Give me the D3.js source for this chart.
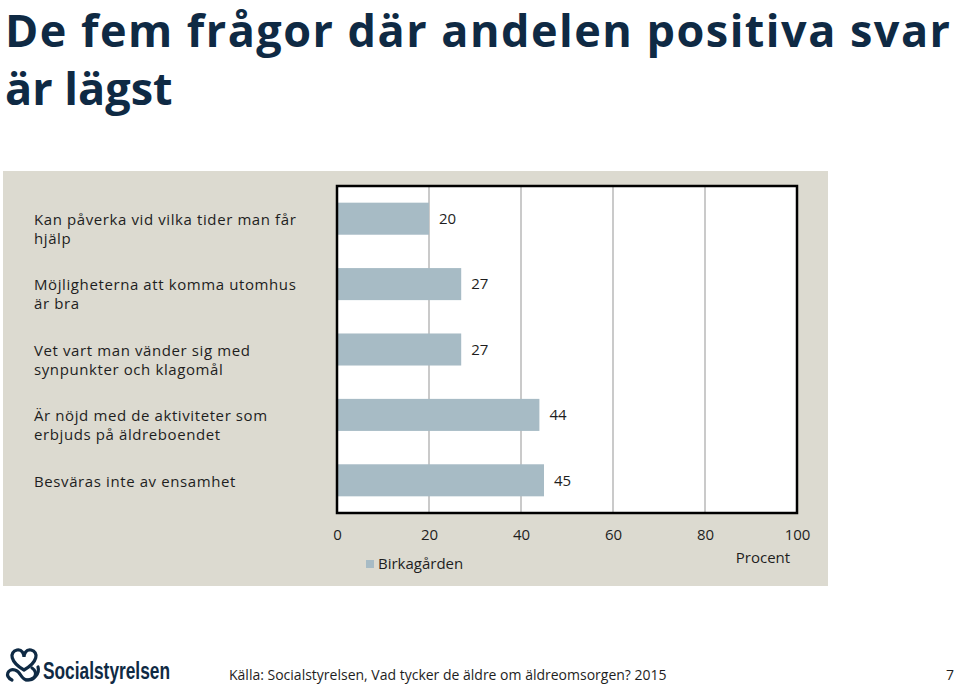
<!DOCTYPE html>
<html><head><meta charset="utf-8">
<script src="https://cdn.jsdelivr.net/npm/d3@7"></script>
<style>body{margin:0;background:#fff}svg{display:block}</style>
</head><body>
<svg id="c" width="959" height="688"></svg>
<script>
const titleLines = ["De fem frågor där andelen positiva svar", "är lägst"];
const categories = [
  ["Kan påverka vid vilka tider man får", "hjälp"],
  ["Möjligheterna att komma utomhus", "är bra"],
  ["Vet vart man vänder sig med", "synpunkter och klagomål"],
  ["Är nöjd med de aktiviteter som", "erbjuds på äldreboendet"],
  ["Besväras inte av ensamhet"]
];
const values = [20, 27, 27, 44, 45];
const xTicks = [0, 20, 40, 60, 80, 100];
const seriesName = "Birkagården";
const axisTitle = "Procent";
const sourceText = "Källa: Socialstyrelsen, Vad tycker de äldre om äldreomsorgen? 2015";
const pageNumber = "7";

(function () {
const svg = d3.select("#c");
const font = "'Open Sans', 'DejaVu Sans', sans-serif";
const textCol = "#1e1e1e";

// title
const title = svg.append("g");
titleLines.forEach((t, i) => {
  title.append("text").attr("x", 5).attr("y", 47 + i * 58)
    .attr("font-family", font).attr("font-weight", 700).attr("font-size", 45)
    .attr("fill", "#0f2a44").text(t);
});
const t0 = title.select("text");
const w0 = t0.node().getComputedTextLength();
if (w0 < 945) t0.attr("textLength", 945).attr("lengthAdjust", "spacing");

// panel
svg.append("rect").attr("x", 3).attr("y", 171).attr("width", 825).attr("height", 415).attr("fill", "#dcdad0");

const pL = 337, pR = 797, pT = 186, pB = 513;
const x = d3.scaleLinear().domain([0, 100]).range([pL, pR]);
const y = d3.scaleBand().domain(d3.range(values.length)).range([pT, pB]).paddingInner(0.51).paddingOuter(0.255);

svg.append("rect").attr("x", pL).attr("y", pT).attr("width", pR - pL).attr("height", pB - pT).attr("fill", "#fff");

svg.append("g").selectAll("line").data(xTicks.filter(d => d > 0 && d < 100)).join("line")
  .attr("x1", d => x(d)).attr("x2", d => x(d)).attr("y1", pT).attr("y2", pB)
  .attr("stroke", "#b8b8b8").attr("stroke-width", 1.5);

svg.append("g").selectAll("rect").data(values).join("rect")
  .attr("x", x(0)).attr("y", (d, i) => y(i)).attr("width", d => x(d) - x(0)).attr("height", y.bandwidth())
  .attr("fill", "#a7bbc5");

svg.append("rect").attr("x", pL).attr("y", pT).attr("width", pR - pL).attr("height", pB - pT)
  .attr("fill", "none").attr("stroke", "#000").attr("stroke-width", 2.5);

svg.append("g").selectAll("text").data(values).join("text")
  .attr("x", d => x(d) + 10).attr("y", (d, i) => y(i) + y.bandwidth() / 2)
  .attr("dy", "0.35em").attr("font-family", font).attr("font-size", 15).attr("fill", textCol)
  .text(d => d);

const cg = svg.append("g");
categories.forEach((lines, i) => {
  const cy = y(i) + y.bandwidth() / 2 + 1;
  const t = cg.append("text").attr("font-family", font).attr("font-size", 15)
    .attr("letter-spacing", 0.6).attr("fill", textCol);
  lines.forEach((ln, j) => {
    t.append("tspan").attr("x", 34).attr("y", cy + j * 19).attr("dy", "0.35em").text(ln);
  });
});

const xAxis = d3.axisBottom(x).tickValues(xTicks).tickSize(0).tickPadding(0);
const ax = svg.append("g").attr("transform", `translate(0,${pB + 16})`).call(xAxis);
ax.select(".domain").remove();
ax.selectAll("text").attr("font-family", font).attr("font-size", 15).attr("fill", textCol);

svg.append("text").attr("x", 763).attr("y", 558).attr("dy", "0.35em").attr("text-anchor", "middle")
  .attr("font-family", font).attr("font-size", 15).attr("fill", textCol).text(axisTitle);

svg.append("rect").attr("x", 366).attr("y", 560).attr("width", 8).attr("height", 8).attr("fill", "#a7bbc5");
svg.append("text").attr("x", 378).attr("y", 564).attr("dy", "0.35em")
  .attr("font-family", font).attr("font-size", 15).attr("fill", textCol).text(seriesName);

const logo = svg.append("g").attr("fill", "none").attr("stroke", "#0f2a44").attr("stroke-width", 3.2).attr("stroke-linecap", "round");
logo.append("path").attr("d", "M24,670 C10,662 9,652 17,650 C22,649 24,654 24,657 C24,654 26,649 31,650 C39,652 38,662 24,670");
logo.append("path").attr("d", "M12,680 C4,676 8,668 15,670 C22,672 20,680 28,680 C36,680 38,672 32,668");
logo.append("path").attr("d", "M26,680 C34,680 40,674 38,667");
svg.append("text").attr("x", 43).attr("y", 679)
  .attr("font-family", "'Liberation Sans Narrow', 'Liberation Sans', sans-serif").attr("font-weight", 700)
  .attr("font-size", 23).attr("fill", "#0f2a44").attr("textLength", 127).attr("lengthAdjust", "spacingAndGlyphs")
  .text("Socialstyrelsen");

svg.append("text").attr("x", 229).attr("y", 675).attr("dy", "0.35em")
  .attr("font-family", font).attr("font-size", 14).attr("fill", textCol).text(sourceText);
svg.append("text").attr("x", 954).attr("y", 675).attr("dy", "0.35em").attr("text-anchor", "end")
  .attr("font-family", font).attr("font-size", 14).attr("fill", textCol).text(pageNumber);
})();
</script>
</body></html>
